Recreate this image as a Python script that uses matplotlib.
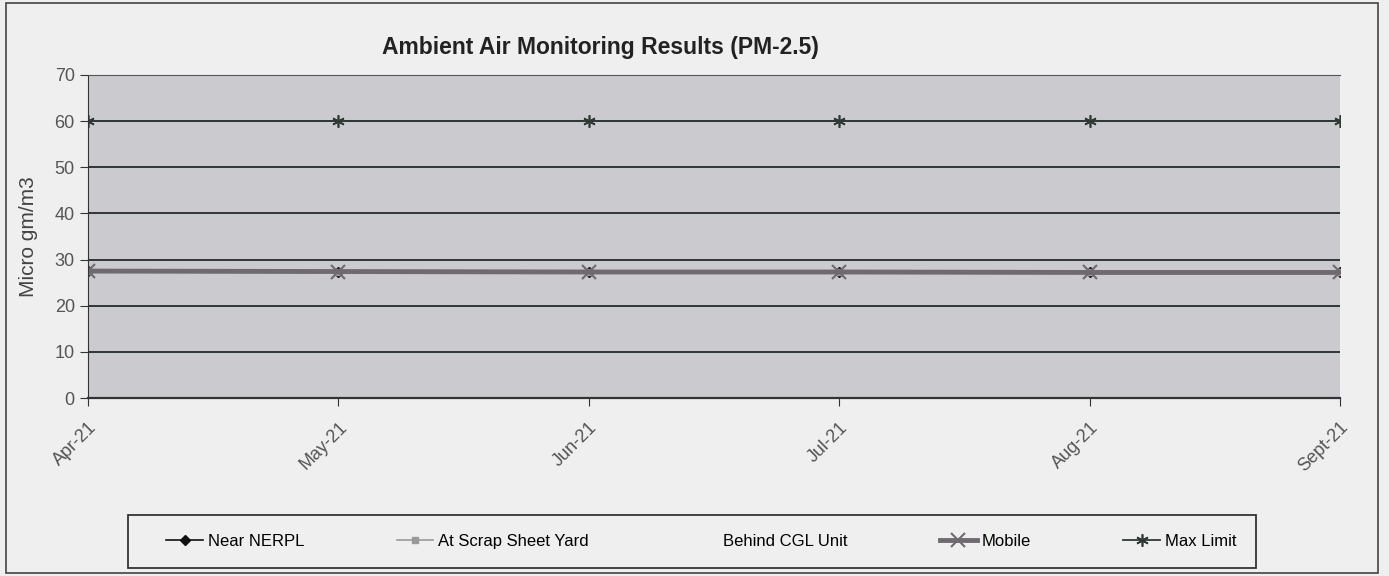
import matplotlib
matplotlib.use("Agg")
import matplotlib.pyplot as plt
from matplotlib.patches import Rectangle

plt.rcParams["font.family"] = ["Liberation Sans", "DejaVu Sans"]

months = ["Apr-21", "May-21", "Jun-21", "Jul-21", "Aug-21", "Sept-21"]
near_nerpl = [27.5, 27.4, 27.3, 27.3, 27.2, 27.2]
scrap_yard = [27.5, 27.4, 27.3, 27.3, 27.2, 27.2]
behind_cgl = [27.5, 27.4, 27.3, 27.3, 27.2, 27.2]
mobile = [27.5, 27.4, 27.3, 27.3, 27.2, 27.2]
max_limit = [60, 60, 60, 60, 60, 60]
yticks = [0, 10, 20, 30, 40, 50, 60, 70]

fig = plt.figure(figsize=(13.89, 5.76), dpi=100)
fig.patch.set_facecolor("#efefef")
fig.patches.append(Rectangle((0.004, 0.006), 0.988, 0.988, transform=fig.transFigure,
                             fill=False, edgecolor="#444444", lw=1.2))

ax = fig.add_axes([0.0634, 0.309, 0.9013, 0.561])
ax.set_facecolor("#cbcacf")
x = list(range(len(months)))

ax.plot(x, near_nerpl, color="#111111", marker="D", markersize=5, lw=1.2, label="Near NERPL")
ax.plot(x, scrap_yard, color="#999999", marker="s", markersize=5, lw=1.2, label="At Scrap Sheet Yard")
ax.plot(x, behind_cgl, color="none", lw=0, label="Behind CGL Unit")
ax.plot(x, mobile, color="#6e6a70", marker="x", markersize=10, mew=1.5, lw=3.5, label="Mobile")
ax.plot(x, max_limit, color="#2f3a36", marker=(6, 2, 0), markersize=9, mew=1.2, lw=1.3,
        label="Max Limit")

ax.set_xlim(0, len(months) - 1)
ax.set_ylim(0, 70)
ax.set_yticks(yticks)
ax.set_yticklabels([str(v) for v in yticks], fontsize=13, color="#555555")
ax.set_xticks(x)
ax.set_xticklabels(months, rotation=45, ha="right", va="top", fontsize=13,
                   color="#555555", rotation_mode="anchor")
ax.tick_params(axis="both", direction="out", length=6, color="#333333")
ax.tick_params(axis="x", pad=9)
ax.grid(axis="y", color="#2d3833", lw=1.4)
ax.set_axisbelow(True)
ax.spines["right"].set_visible(False)
ax.spines["top"].set_color("#555555")
ax.spines["left"].set_color("#333333")
ax.spines["bottom"].set_color("#333333")
ax.spines["bottom"].set_linewidth(1.6)

ax.set_ylabel("Micro gm/m3", fontsize=15, color="#444444", labelpad=12)
fig.text(0.432, 0.917, "Ambient Air Monitoring Results (PM-2.5)", ha="center", va="center",
         fontsize=16.5, fontweight="bold", color="#222222")

fig.patches.append(Rectangle((0.092, 0.014), 0.812, 0.092, transform=fig.transFigure,
                             facecolor="#efefef", edgecolor="#333333", lw=1.3))
leg = fig.legend(loc="center", bbox_to_anchor=(0.115, 0.014, 0.78, 0.092),
                 mode="expand", ncol=5, frameon=False, fontsize=12,
                 handlelength=2.2, handletextpad=0.3, borderaxespad=0)

fig.savefig("out.png", dpi=100, facecolor=fig.get_facecolor())
